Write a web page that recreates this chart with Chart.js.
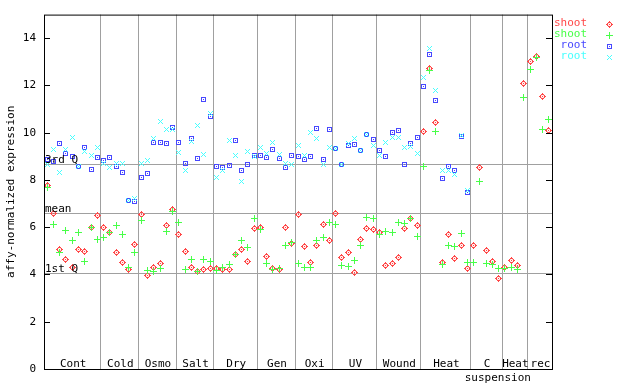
<!DOCTYPE html>
<html><head><meta charset="utf-8">
<script src="https://cdn.jsdelivr.net/npm/chart.js@4/dist/chart.umd.min.js"></script>
<style>html,body{margin:0;padding:0;background:#fff}canvas{display:block}</style>
</head><body>
<canvas id="c" width="640" height="384"></canvas>
<script>
// ---- data ----
const groupNames = ['Cont','Cold','Osmo','Salt','Dry','Gen','Oxi','UV','Wound','Heat','C','Heat','rec'];
const groupSizes = [9,6,6,6,7,6,6,7,7,8,5,4,4];
const subLabel = 'suspension';
const yTicks = [0,2,4,6,8,10,12,14];
const statValues = [8.67, 6.60, 4.07];
const statLabels = ['3rd Q','mean','1st Q'];
const seriesNames = ['shoot','shoot','root','root'];
const yTitle = 'affy-normalized expression';

const shootRed = [
 7.78,6.60,5.07,4.62,4.28,5.04,4.96,5.97,6.48,
 5.97,5.76,4.92,4.50,4.20,5.26,
 6.52,3.95,4.28,4.45,6.06,6.77,
 5.68,4.96,4.28,4.12,4.20,4.24,
 4.24,4.20,4.20,4.83,5.04,4.54,5.93,
 6.01,4.75,4.24,4.20,5.97,5.30,
 6.56,5.17,4.50,5.21,6.10,5.42,
 6.60,4.71,4.92,4.07,5.47,5.93,5.89,
 5.76,4.37,4.45,4.71,5.93,6.39,6.06,
 10.06,12.71,10.44,4.50,5.68,4.66,5.21,4.24,
 5.21,8.54,5.00,4.54,3.82,
 4.28,4.58,4.37,12.08,
 13.01,13.22,11.53,10.10];
const shootGreen = [
 7.70,6.10,4.92,5.85,5.42,5.76,4.54,6.00,5.47,
 5.55,5.76,6.06,5.68,4.28,4.92,
 6.27,4.16,4.12,4.24,5.80,6.65,
 6.22,4.20,4.62,4.12,4.62,4.54,
 4.16,4.28,4.41,4.83,5.42,5.13,6.39,
 5.89,4.45,4.20,4.24,5.21,5.34,
 4.45,4.28,4.28,5.42,5.55,6.22,
 6.10,4.37,4.33,4.58,5.21,6.43,6.35,
 5.68,5.80,5.76,6.18,6.14,6.39,5.59,
 8.58,12.63,10.06,4.41,5.21,5.17,5.72,4.50,
 4.50,7.95,4.45,4.41,4.24,
 4.24,4.28,4.20,11.49,
 12.67,13.18,10.14,10.56];
const rootBlue = [
 8.86,8.79,9.55,9.13,9.01,8.57,9.38,8.46,8.96,
 8.82,8.96,8.58,8.33,7.12,7.08,
 8.12,8.29,9.60,9.60,9.55,10.23,
 9.60,8.71,9.76,8.92,11.41,10.69,
 8.58,8.54,8.63,9.68,8.42,8.67,9.05,
 9.05,8.96,9.30,8.92,8.54,9.05,
 9.01,8.88,9.01,10.19,8.88,10.14,
 9.33,8.67,9.47,9.51,9.26,9.92,9.72,
 9.26,9.01,10.02,10.10,8.67,9.55,9.81,
 11.96,13.30,11.37,8.08,8.58,8.42,9.86,7.49,
 null,null,null,null,null,
 null,null,null,null,
 null,null,null,null];
const rootCyan = [
 8.67,9.30,8.33,9.30,9.81,8.57,9.22,9.05,9.36,
 8.71,8.54,8.68,8.68,7.12,7.20,
 8.68,8.84,9.76,10.48,10.14,10.14,
 9.17,8.42,9.64,10.31,9.09,10.82,
 8.12,8.42,9.68,9.05,7.95,9.22,9.01,
 9.38,9.13,9.60,9.09,8.71,8.67,
 9.47,9.05,10.02,9.76,8.67,9.38,
 9.33,8.67,9.55,9.76,9.26,9.92,9.47,
 9.05,9.60,9.81,9.81,9.38,9.43,9.13,
 12.33,13.56,11.79,8.42,8.42,8.25,9.88,7.57,
 null,null,null,null,null,
 null,null,null,null,
 null,null,null,null];

// ---- styling ----
const colors = ['#ff4848','#48ff48','#4848ff','#48ffff'];
const FONT = '11px "DejaVu Sans Mono", monospace';
const GRID = '#a0a0a0';

function makeMarker(kind, color) {
  const c = document.createElement('canvas');
  c.width = 7; c.height = 7;
  const g = c.getContext('2d');
  const px = (x, y, col) => { g.fillStyle = col || color; g.fillRect(x, y, 1, 1); };
  for (let dy = -3; dy <= 3; dy++) for (let dx = -3; dx <= 3; dx++) {
    const X = dx + 3, Y = dy + 3, ad = Math.abs(dx), bd = Math.abs(dy);
    if (kind === 'diamond') {
      const d = ad + bd;
      if (d === 3) px(X, Y);
      else if (d === 2) px(X, Y, (dx % 2 === 0) ? color : '#ffc8c8');
      else if (d === 0) px(X, Y);
    } else if (kind === 'plus') {
      if ((dx === 0 && bd <= 3) || (dy === 0 && ad <= 3)) px(X, Y);
    } else if (kind === 'square') {
      if (ad <= 2 && bd <= 2 && (ad === 2 || bd === 2)) px(X, Y);
      if (dx === 0 && dy === 0) px(X, Y);
    } else if (kind === 'x') {
      if (ad <= 2 && ad === bd) px(X, Y);
    }
  }
  return c;
}
const markers = [
  makeMarker('diamond', colors[0]),
  makeMarker('plus', colors[1]),
  makeMarker('square', colors[2]),
  makeMarker('x', colors[3])
];
const seriesData = [shootRed, shootGreen, rootBlue, rootCyan];

const datasets = seriesData.map((arr, k) => ({
  label: seriesNames[k],
  data: arr.map((v, i) => ({x: i, y: v})).filter(p => p.y !== null),
  pointStyle: markers[k],
  pointRadius: 4,
  pointHoverRadius: 4,
  showLine: false,
  order: 3 - k
}));

const nSamples = shootRed.length;

const decor = {
  id: 'decor',
  beforeDatasetsDraw(chart) {
    const {ctx, chartArea: a, scales: {x, y}} = chart;
    ctx.save();
    ctx.strokeStyle = GRID; ctx.lineWidth = 1;
    const line = (x1, y1, x2, y2) => { ctx.beginPath(); ctx.moveTo(x1, y1); ctx.lineTo(x2, y2); ctx.stroke(); };
    let cum = 0;
    groupSizes.forEach((n, k) => {
      cum += n;
      if (k < groupSizes.length - 1) {
        const px = Math.round(x.getPixelForValue(cum - 0.5)) + 0.5;
        line(px, a.top, px, a.bottom);
      }
    });
    statValues.forEach(v => {
      const py = Math.round(y.getPixelForValue(v)) + 0.5;
      line(a.left, py, a.right, py);
    });
    ctx.restore();
    ctx.imageSmoothingEnabled = false;
  },
  afterDatasetsDraw(chart) {
    const {ctx, chartArea: a, scales: {x, y}} = chart;
    ctx.save();
    ctx.strokeStyle = '#000'; ctx.lineWidth = 1;
    const line = (x1, y1, x2, y2) => { ctx.beginPath(); ctx.moveTo(x1, y1); ctx.lineTo(x2, y2); ctx.stroke(); };
    ctx.strokeRect(a.left + 0.5, a.top + 0.5, a.right - a.left, a.bottom - a.top);
    yTicks.forEach(v => {
      const py = Math.round(y.getPixelForValue(v)) + 0.5;
      line(a.left, py, a.left + 6, py);
      line(a.right - 6, py, a.right + 1, py);
    });
    ctx.font = FONT;
    ctx.fillStyle = '#000';
    ctx.textAlign = 'left'; ctx.textBaseline = 'alphabetic';
    statValues.forEach((v, k) => {
      const py = Math.round(y.getPixelForValue(v));
      ctx.fillText(statLabels[k], a.left + 1, py - 1);
    });
    // group labels
    ctx.textAlign = 'center';
    let start = 0;
    groupSizes.forEach((n, k) => {
      const cx = (x.getPixelForValue(start - 0.5) + x.getPixelForValue(start + n - 0.5)) / 2;
      ctx.fillText(groupNames[k], cx + 1, a.bottom - 2);
      start += n;
    });
    const bnd = x.getPixelForValue(groupSizes.slice(0, 11).reduce((s, v) => s + v, 0) - 0.5);
    ctx.fillText(subLabel, bnd - 4, a.bottom + 12);
    // y title
    ctx.save();
    ctx.translate(11, (a.top + a.bottom) / 2);
    ctx.rotate(-Math.PI / 2);
    ctx.textBaseline = 'middle';
    ctx.fillText(yTitle, 0, 0);
    ctx.restore();
    // legend
    ctx.textAlign = 'right'; ctx.textBaseline = 'middle';
    seriesNames.forEach((name, k) => {
      const cy = 23.5 + k * 11;
      ctx.fillStyle = colors[k];
      ctx.fillText(name, 587, cy);
      ctx.drawImage(markers[k], 606, Math.round(cy) - 3);
    });
    ctx.restore();
  }
};

new Chart(document.getElementById('c'), {
  type: 'scatter',
  data: { datasets },
  options: {
    responsive: false,
    animation: false,
    events: [],
    layout: { padding: { left: 0, right: 88, top: 13, bottom: 15 } },
    plugins: { legend: { display: false }, tooltip: { enabled: false } },
    scales: {
      x: { type: 'linear', min: -0.5, max: nSamples - 0.5, display: false },
      y: {
        type: 'linear', min: 0, max: 15,
        afterBuildTicks: s => { s.ticks = yTicks.map(v => ({ value: v })); },
        afterFit: s => { s.width = 44; },
        grid: { display: false, drawTicks: false },
        border: { display: false },
        ticks: { color: '#000', padding: 8, font: { family: '"DejaVu Sans Mono", monospace', size: 11 } }
      }
    }
  },
  plugins: [decor]
});
</script>
</body></html>
